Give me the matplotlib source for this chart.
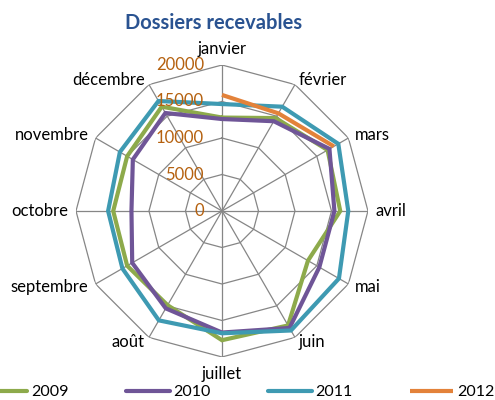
import numpy as np
import matplotlib
matplotlib.use("Agg")
import matplotlib.pyplot as plt

# ---- données ----
mois = ['janvier', 'février', 'mars', 'avril', 'mai', 'juin', 'juillet',
        'août', 'septembre', 'octobre', 'novembre', 'décembre']
annees = ['2009', '2010', '2011', '2012']
v2009 = [12800, 14700, 16700, 16200, 13600, 18100, 17700, 14900, 15000, 14900, 15000, 16500]
v2010 = [12600, 14200, 17000, 15400, 15400, 18500, 16650, 15400, 14200, 12400, 14100, 15500]
v2011 = [14650, 16500, 18400, 17300, 18500, 18900, 16750, 17300, 15750, 15600, 16150, 17400]
v2012 = [15900, 15450, 17700]
graduations = [0, 5000, 10000, 15000, 20000]

couleurs = ['#8DAA4B', '#6F5597', '#3E9AB2', '#E3823A']
gris = '#868686'
brun = '#B5610F'

plt.rcParams['font.family'] = ['Lato', 'DejaVu Sans']

fig = plt.figure(figsize=(4.95, 4.0), dpi=100)
ax = fig.add_axes([0.1535, 0.1075, 0.5899, 0.73], projection='polar')
ax.set_theta_zero_location('N')
ax.set_theta_direction(-1)
ax.set_ylim(0, 20000)
ax.set_xticks([])
ax.set_yticks([])
ax.grid(False)
ax.spines['polar'].set_visible(False)
ax.patch.set_alpha(0)

n = len(mois)
angles = np.arange(n) * 2 * np.pi / n
angles_ferme = np.append(angles, angles[0])

# grille en polygones + rayons
for g in graduations[1:]:
    ax.plot(angles_ferme, [g] * (n + 1), color=gris, lw=0.9, zorder=1)
for a in angles:
    ax.plot([a, a], [0, graduations[-1]], color=gris, lw=0.9, zorder=1)

# séries
series = [v2009, v2010, v2011]
for nom, vals, c in zip(annees[:3], series, couleurs[:3]):
    ax.plot(angles_ferme, vals + vals[:1], color=c, lw=3, label=nom,
            solid_capstyle='round', solid_joinstyle='miter', zorder=3)
ax.plot(angles[:len(v2012)], v2012, color=couleurs[3], lw=3, label=annees[3],
        solid_capstyle='butt', zorder=3)

# étiquettes radiales
for g in graduations:
    ax.annotate(str(g), xy=(0, g), xytext=(-18, 0), textcoords='offset pixels',
                ha='right', va='center', fontsize=12, color=brun)

# noms des mois
d = 8
for a, m in zip(angles, mois):
    s, c = np.sin(a), np.cos(a)
    if abs(s) < 0.1:
        ha = 'center'
        va = 'bottom' if c > 0 else 'top'
        off = (0, 8 if c > 0 else -9)
    else:
        ha = 'left' if s > 0 else 'right'
        va = 'center'
        off = (s * d, c * d * 0.7)
    ax.annotate(m, xy=(a, graduations[-1]), xytext=off, textcoords='offset pixels',
                ha=ha, va=va, fontsize=12, color='black', annotation_clip=False)

fig.text(0.432, 0.943, 'Dossiers recevables', ha='center', va='center',
         fontsize=14.5, fontweight='bold', color='#2A5391')

fig.legend(loc='lower center', bbox_to_anchor=(0.484, -0.022), ncol=4, frameon=False,
           fontsize=11.5, handlelength=2.7, handletextpad=0.25, columnspacing=3.6,
           borderaxespad=0.2)

fig.savefig('out.png', dpi=100)
